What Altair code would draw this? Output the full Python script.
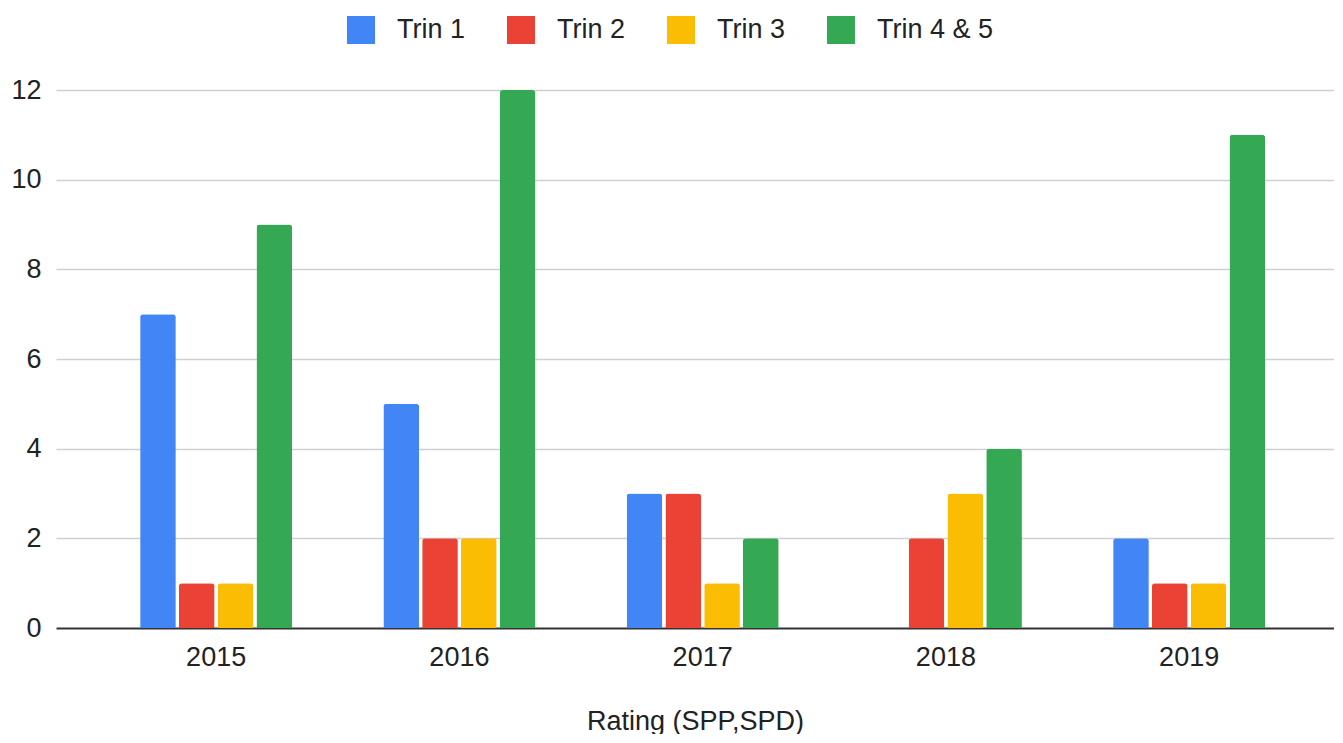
import altair as alt
import pandas as pd

years = ["2015", "2016", "2017", "2018", "2019"]
series = ["Trin 1", "Trin 2", "Trin 3", "Trin 4 & 5"]
trin1 = [7, 5, 3, 0, 2]
trin2 = [1, 2, 3, 2, 1]
trin3 = [1, 2, 1, 3, 1]
trin45 = [9, 12, 2, 4, 11]
colors = ["#4285F4", "#EA4335", "#FBBC04", "#34A853"]
y_ticks = [0, 2, 4, 6, 8, 10, 12]

rows = []
for s, vals in zip(series, [trin1, trin2, trin3, trin45]):
    for yr, v in zip(years, vals):
        rows.append({"year": yr, "series": s, "value": v})
df = pd.DataFrame(rows)

FONT = "Liberation Sans"
TXT = "#222222"

chart = alt.Chart(df).mark_bar(cornerRadiusTopLeft=3, cornerRadiusTopRight=3).encode(
    x=alt.X(
        "year:N",
        title="Rating (SPP,SPD)",
        scale=alt.Scale(paddingInner=0.375, paddingOuter=0.3144, align=0.55),
        axis=alt.Axis(labelAngle=0, domain=False, ticks=False, labelPadding=16,
                      titlePadding=38, labelFontSize=27, titleFontSize=27,
                      titleFontWeight="normal", labelColor=TXT, titleColor=TXT),
    ),
    xOffset=alt.XOffset("series:N", sort=series,
                        scale=alt.Scale(paddingInner=0.08, paddingOuter=0)),
    y=alt.Y(
        "value:Q",
        title=None,
        scale=alt.Scale(domain=[0, 12]),
        axis=alt.Axis(values=y_ticks, grid=True, domain=False, ticks=False, labelPadding=15,
                      labelFontSize=27, labelColor=TXT,
                      gridColor={"condition": {"test": "datum.value === 0", "value": "#333333"}, "value": "#d0d0d0"},
                      gridWidth={"condition": {"test": "datum.value === 0", "value": 2}, "value": 1.5}),
    ),
    color=alt.Color(
        "series:N",
        sort=series,
        scale=alt.Scale(domain=series, range=colors),
        legend=alt.Legend(title=None, orient="none", legendX=291, legendY=-74, padding=0,
                          direction="horizontal", symbolType="square", symbolSize=784,
                          labelOffset=22, columnPadding=41, labelFontSize=27,
                          labelColor=TXT, symbolStrokeWidth=0),
    ),
).properties(
    width=1278, height=538,
    padding={"top": 8, "left": 2, "right": 0, "bottom": 0},
).configure(font=FONT).configure_view(stroke=None)

chart.save("out.html", embed_options={"renderer": "svg", "actions": False})
